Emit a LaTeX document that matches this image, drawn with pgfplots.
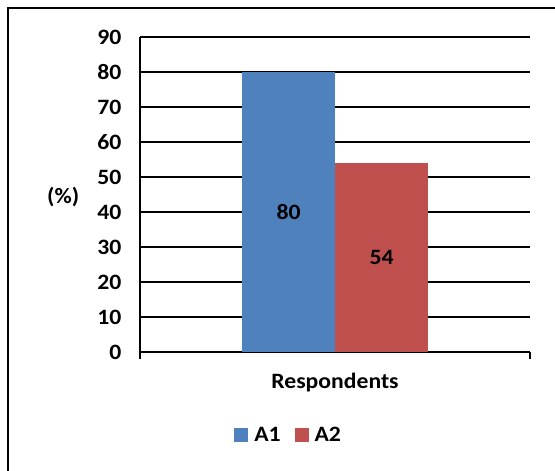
\documentclass[border=0pt]{standalone}
\usepackage{fontspec}
\setmainfont{Carlito}[FakeStretch=1.08]
\usepackage{pgfplots}
\pgfplotsset{compat=1.18}
\definecolor{barblue}{HTML}{4F81BD}
\definecolor{barred}{HTML}{C0504D}
\newcommand{\chartfont}{\bfseries\fontsize{22}{26}\selectfont}
\begin{document}
\begin{tikzpicture}
\useasboundingbox (0bp,0bp) rectangle (555bp,471bp);
% chart frame
\draw[line width=2bp] (8bp,-5bp) -- (8bp,463bp) -- (560bp,463bp);
\begin{axis}[
  at={(140bp,119bp)}, anchor=south west,
  scale only axis, width=390bp, height=315bp,
  xmin=-1, xmax=1, ymin=0, ymax=90,
  ytick={0,10,...,90}, xtick={-1,1}, xticklabels={},
  axis x line*=bottom, axis y line*=left,
  axis line style={-, black, line width=1.5bp},
  ymajorgrids, major grid style={black, line width=1.3bp},
  ytick style={draw=none},
  xtick style={black, line width=1.5bp},
  tick align=outside, major tick length=7bp,
  tick label style={font=\chartfont},
  /pgf/number format/assume math mode=true,
  yticklabel style={xshift=-8bp},
  ybar=0pt, bar width=93bp,
  xlabel={Respondents},
  xlabel style={font=\chartfont, at={(axis description cs:0.5,-0.098)}, anchor=center},
  ylabel={(\%)},
  ylabel style={font=\chartfont, rotate=-90, at={(axis description cs:-0.197,0.492)}, anchor=center},
  nodes near coords,
  visualization depends on={rawy \as \rawy},
  nodes near coords style={font=\chartfont, anchor=center, yshift={-\rawy*1.75bp}},
  legend columns=2,
  legend style={at={(axis description cs:0.381,-0.265)}, anchor=center, draw=none,
    font=\chartfont,
    /tikz/every odd column/.append style={column sep=4bp},
    /tikz/every even column/.append style={column sep=12bp},
    inner sep=0pt},
]
\addplot[fill=barblue, draw=none,
  legend image code/.code={\fill[barblue] (0bp,-7bp) rectangle (14bp,7bp);}]
  coordinates {(0,80)};
\addplot[fill=barred, draw=none,
  legend image code/.code={\fill[barred] (0bp,-7bp) rectangle (14bp,7bp);}]
  coordinates {(0,54)};
\legend{A1,A2}
\end{axis}
\end{tikzpicture}
\end{document}
